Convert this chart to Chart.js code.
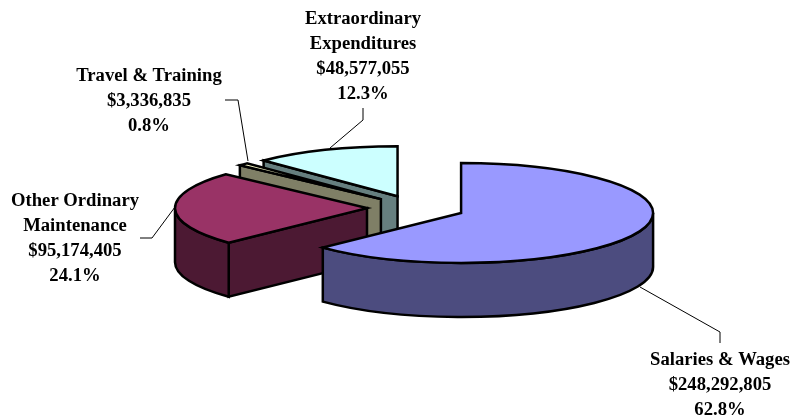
<!DOCTYPE html>
<html>
<head>
<meta charset="utf-8">
<script src="https://cdn.jsdelivr.net/npm/chart.js@4"></script>
<style>
    html, body { margin: 0; padding: 0; background: #fff; }
    canvas { display: block; }
</style>
</head>
<body>
<canvas id="grafik" width="794" height="420"></canvas>
<script>
// Clockwise from twelve o'clock
const categories = [
    ['Salaries & Wages'],
    ['Other Ordinary', 'Maintenance'],
    ['Travel & Training'],
    ['Extraordinary', 'Expenditures']
]
const amounts = [248292805, 95174405, 3336835, 48577055]
const topColors = ['#9999FF', '#993366', '#FFFFCC', '#CCFFFF']

// text centre + first baseline, and the leader line for each slice
const labelSpots = [
    { x: 720, y: 365, leader: [[720, 343], [720, 332], [640, 287]] },
    { x: 75, y: 206, leader: [[140, 238], [152, 238], [175, 207]] },
    { x: 149, y: 81, leader: [[225, 100], [238, 100], [248, 161]] },
    { x: 363, y: 24, leader: [[363, 108], [363, 120], [330, 148]] }
]

const TILT = 0.26
const DEPTH = 54
const LINE_HEIGHT = 25

// side walls are the top colour at half brightness
function halfShade(hex) {
    const n = parseInt(hex.slice(1), 16)
    const r = (n >> 16) >> 1, g = ((n >> 8) & 255) >> 1, b = (n & 255) >> 1
    return 'rgb(' + r + ',' + g + ',' + b + ')'
}

// pie slice with a flattened top and an extruded wall
class Arc3d extends Chart.ArcElement {
    static id = 'arc3d'

    draw(ctx) {
        const { x, y, startAngle, endAngle, outerRadius } = this
        const opts = this.options
        const mid = (startAngle + endAngle) / 2
        const cx = x + Math.cos(mid) * opts.offset
        const cy = y + Math.sin(mid) * opts.offset * TILT
        const ry = outerRadius * TILT
        const rimX = a => cx + Math.cos(a) * outerRadius
        const rimY = a => cy + Math.sin(a) * ry

        ctx.save()
        ctx.lineWidth = opts.borderWidth
        ctx.strokeStyle = opts.borderColor
        ctx.lineJoin = 'miter'
        ctx.fillStyle = halfShade(opts.backgroundColor)

        const paint = () => { ctx.fill(); ctx.stroke() }
        const cutFace = a => {
            ctx.beginPath()
            ctx.moveTo(cx, cy)
            ctx.lineTo(rimX(a), rimY(a))
            ctx.lineTo(rimX(a), rimY(a) + DEPTH)
            ctx.lineTo(cx, cy + DEPTH)
            ctx.closePath()
            paint()
        }

        // only the cut faces turned towards the viewer
        if (Math.cos(startAngle) < -0.001) cutFace(startAngle)
        if (Math.cos(endAngle) > 0.001) cutFace(endAngle)

        // outer wall, front half of the rim only
        const from = Math.max(startAngle, 0)
        const to = Math.min(endAngle, Math.PI)
        if (to > from) {
            ctx.beginPath()
            ctx.ellipse(cx, cy, outerRadius, ry, 0, from, to)
            ctx.ellipse(cx, cy + DEPTH, outerRadius, ry, 0, to, from, true)
            ctx.closePath()
            paint()
        }

        ctx.beginPath()
        ctx.moveTo(cx, cy)
        ctx.ellipse(cx, cy, outerRadius, ry, 0, startAngle, endAngle)
        ctx.closePath()
        ctx.fillStyle = opts.backgroundColor
        paint()
        ctx.restore()
    }
}

// last slice sits furthest back, so paint in reverse
class Pie3dController extends Chart.PieController {
    static id = 'pie3d'
    static defaults = { dataElementType: 'arc3d' }

    draw() {
        const arcs = this.getMeta().data
        for (let i = arcs.length - 1; i >= 0; i--) {
            arcs[i].draw(this.chart.ctx, this.chart.chartArea)
        }
    }
}

Chart.register(Arc3d, Pie3dController)

const sliceLabels = {
    id: 'sliceLabels',
    afterDraw(chart) {
        const ctx = chart.ctx
        const total = amounts.reduce((a, b) => a + b, 0)
        ctx.save()
        labelSpots.forEach((spot, i) => {
            ctx.beginPath()
            spot.leader.forEach((p, k) => k ? ctx.lineTo(p[0], p[1]) : ctx.moveTo(p[0], p[1]))
            ctx.lineWidth = 1
            ctx.strokeStyle = '#000'
            ctx.stroke()

            const lines = categories[i].concat([
                '$' + amounts[i].toLocaleString('en-US'),
                (amounts[i] / total * 100).toFixed(1) + '%'
            ])
            ctx.font = 'bold 18.67px "Liberation Serif"'
            ctx.fillStyle = '#000'
            ctx.textAlign = 'center'
            ctx.textBaseline = 'alphabetic'
            lines.forEach((line, k) => ctx.fillText(line, spot.x, spot.y + k * LINE_HEIGHT))
        })
        ctx.restore()
    }
}

const ctx = document.getElementById('grafik')
const myChart = new Chart(ctx, {
    type: 'pie3d',
    data: {
        labels: categories.map(c => c.join(' ')),
        datasets: [{
            data: amounts,
            backgroundColor: topColors,
            borderColor: '#000',
            borderWidth: 2.5,
            offset: 49
        }]
    },
    options: {
        responsive: false,
        animation: false,
        radius: 192,
        layout: { padding: { left: 38, bottom: 4 } },
        plugins: {
            legend: { display: false },
            tooltip: { enabled: false }
        }
    },
    plugins: [sliceLabels]
})
</script>
</body>
</html>
